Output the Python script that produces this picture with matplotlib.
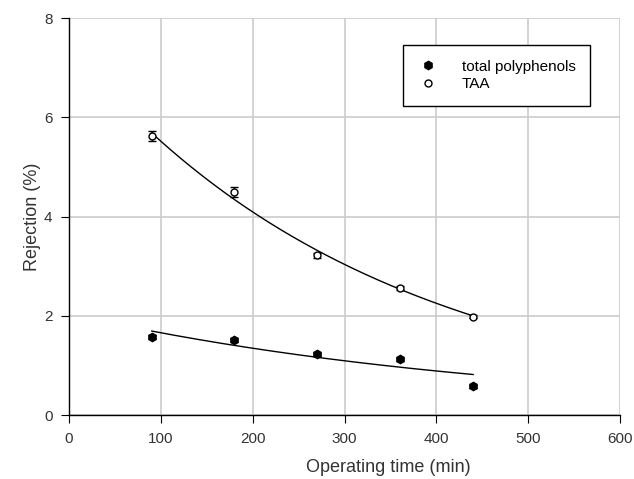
import numpy as np
import matplotlib
matplotlib.use("Agg")
import matplotlib.pyplot as plt
from matplotlib.lines import Line2D

plt.rcParams['font.family'] = ['Liberation Sans', 'DejaVu Sans']

time_min = [90, 180, 270, 360, 440]
polyphenols = [1.58, 1.52, 1.22, 1.12, 0.58]
polyphenols_err = [0.03, 0.03, 0.03, 0.03, 0.03]
taa = [5.62, 4.50, 3.22, 2.55, 1.98]
taa_err = [0.10, 0.10, 0.05, 0.04, 0.03]
x_ticks = [0, 100, 200, 300, 400, 500, 600]
y_ticks = [0, 2, 4, 6, 8]

fig = plt.figure(figsize=(6.34, 4.79), dpi=100)
ax = fig.add_axes([0.109, 0.1336, 0.869, 0.8288])

t = np.array(time_min, dtype=float)
tt = np.linspace(t.min(), t.max(), 200)

def expfit(y):
    y = np.array(y, dtype=float)
    b, la = np.polyfit(t, np.log(y), 1)
    a = np.exp(la)
    # Gauss-Newton refinement in linear space
    for _ in range(50):
        f = a * np.exp(b * t)
        J = np.column_stack([np.exp(b * t), a * t * np.exp(b * t)])
        r = y - f
        d, *_ = np.linalg.lstsq(J, r, rcond=None)
        a += d[0]
        b += d[1]
    return a * np.exp(b * tt)

ax.plot(tt, expfit(taa), color='black', lw=1.0, zorder=2)
ax.plot(tt, expfit(polyphenols), color='black', lw=1.0, zorder=2)

ax.errorbar(time_min, polyphenols, yerr=polyphenols_err, fmt='h', color='black',
            mfc='black', mec='black', ms=6, capsize=3, elinewidth=1, lw=0, zorder=3)
ax.errorbar(time_min, taa, yerr=taa_err, fmt='o', color='black',
            mfc='white', mec='black', ms=5, capsize=3, elinewidth=1, lw=0, zorder=3)

ax.set_xlim(0, 600)
ax.set_ylim(0, 8)
ax.set_xticks(x_ticks)
ax.set_yticks(y_ticks)
ax.grid(True, color='#cccccc', lw=1.2)
ax.set_axisbelow(True)
for s in ['top', 'right']:
    ax.spines[s].set_visible(False)
for s in ['left', 'bottom']:
    ax.spines[s].set_linewidth(1.0)
ax.tick_params(direction='out', length=6, pad=6, labelsize=11, colors='black', labelcolor='#333333')
ax.set_xlabel('Operating time (min)', fontsize=13, color='#333333')
ax.xaxis.set_label_coords(0.58, -0.112)
ax.set_ylabel('Rejection (%)', fontsize=13, color='#333333', labelpad=2)

handles = [Line2D([], [], marker='h', ls='none', color='black', ms=6),
           Line2D([], [], marker='o', ls='none', color='black', mfc='white', ms=5)]
leg = ax.legend(handles, ['total polyphenols', 'TAA'], loc='upper left',
                bbox_to_anchor=(0.606, 0.932), fontsize=11,
                frameon=True, fancybox=False, edgecolor='black', borderpad=0.95,
                handletextpad=1.5, handlelength=1.4, labelspacing=0.25,
                borderaxespad=0, framealpha=1)
leg.get_frame().set_linewidth(1.0)

fig.savefig('out.png', dpi=100)
